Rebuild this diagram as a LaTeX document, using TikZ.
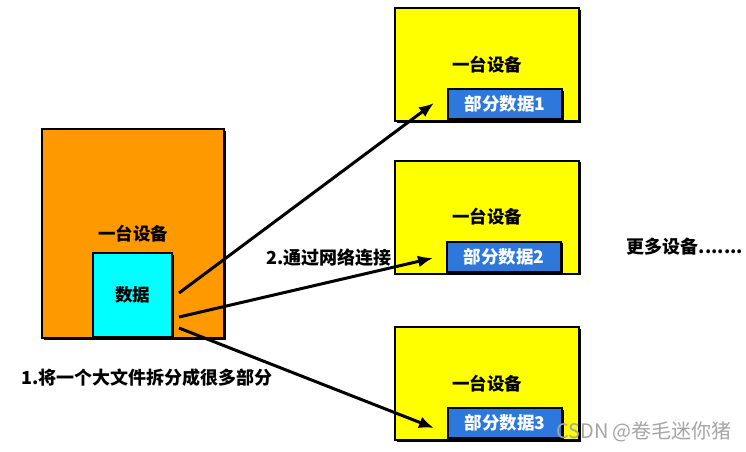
\documentclass[tikz,border=0pt]{standalone}
\usepackage{fontspec}
\newfontfamily\cjk{Noto Sans CJK SC}
\usetikzlibrary{arrows.meta,shadows}
\definecolor{devorange}{RGB}{255,153,0}
\definecolor{devyellow}{RGB}{255,255,0}
\definecolor{datacyan}{RGB}{0,255,255}
\definecolor{partblue}{RGB}{46,120,220}
\definecolor{markgray}{RGB}{165,165,165}
\tikzset{
  box/.style={draw, line width=2pt, font=\cjk\bfseries\fontsize{17.5}{20}\selectfont,
    drop shadow={shadow xshift=1.5pt, shadow yshift=-1.5pt, fill=black, opacity=1}},
  device/.style={box, fill=devyellow, minimum width=184pt, minimum height=113pt},
  partbox/.style={box, fill=partblue, text=white, minimum width=114pt, minimum height=30pt, inner sep=0pt},
  label/.style={font=\cjk\bfseries\fontsize{18}{21}\selectfont},
  link/.style={line width=3pt, -{Latex[length=15pt,width=12pt]}}
}
\begin{document}
\begin{tikzpicture}[x=1pt,y=-1pt]
\useasboundingbox (0,0) rectangle (746,451);
\node[box, fill=devorange, minimum width=182pt, minimum height=209pt] (source) at (133,233.5) {一台设备};
\node[box, fill=datacyan, minimum width=79pt, minimum height=84pt] (data) at (132.5,295) {数据};
\node[device] (dev1) at (487,64.5) {一台设备};
\node[device] (dev2) at (487,217) {一台设备};
\node[device] (dev3) at (487,383.5) {一台设备};
\node[partbox] (part1) at (505,104) {部分数据1};
\node[partbox] (part2) at (504,256.5) {部分数据2};
\node[partbox] (part3) at (505,423) {部分数据3};
\draw[link] ([xshift=6pt,yshift=2pt]data.east) -- ([xshift=-13pt,yshift=1pt]part1.west);
\draw[link] ([xshift=6pt,yshift=-22pt]data.east) -- ([xshift=-13pt,yshift=-1.5pt]part2.west);
\draw[link] ([xshift=6pt,yshift=-33pt]data.east) -- ([xshift=-13pt,yshift=-5pt]part3.west);
\node[label] (split) at (147,378) {1.将一个大文件拆分成很多部分};
\node[label] (network) at (329,258) {2.通过网络连接};
\node[label] (more) at (685,247) {更多设备.......};
\node[font=\cjk\fontsize{20}{23}\selectfont, text=markgray] (mark) at (644,432) {CSDN @卷毛迷你猪};
\end{tikzpicture}
\end{document}
